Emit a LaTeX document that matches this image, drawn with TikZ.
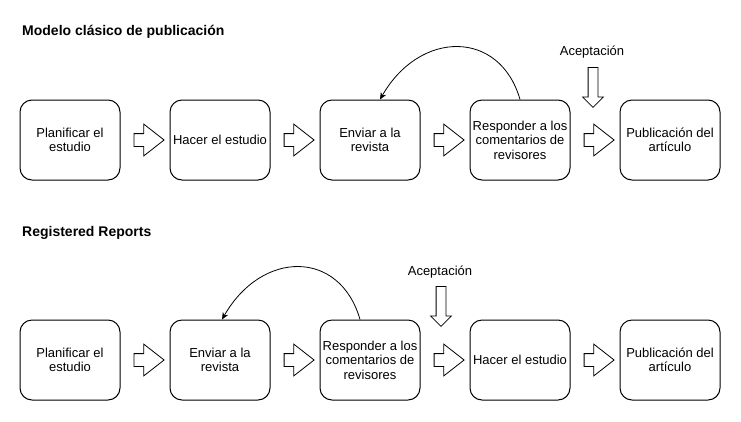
\documentclass[tikz,border=0pt]{standalone}
\usepackage{fontspec}
\setmainfont{Liberation Sans}
\usetikzlibrary{shapes.arrows, arrows.meta, calc}

\begin{document}
\begin{tikzpicture}[x=1pt, y=-1pt,
    caja/.style={draw, line width=1pt, rounded corners=12pt, minimum width=100pt, minimum height=80pt,
        align=center, inner sep=1pt, font=\fontsize{13}{14.5}\selectfont},
    flecha/.style={draw, line width=0.8pt, single arrow, inner xsep=0pt, inner ysep=6pt,
        single arrow head extend=9.5pt, single arrow tip angle=76, minimum height=30pt},
    aceptar/.style={draw, line width=0.8pt, single arrow, rotate=-90, inner xsep=0pt, inner ysep=4.5pt,
        single arrow head extend=5.5pt, single arrow tip angle=90, minimum height=40pt},
    curva/.style={line width=0.8pt, -{Stealth[length=7pt, width=6pt]}},
    titulo/.style={anchor=base west, inner sep=0pt, font=\fontsize{14}{16}\selectfont\bfseries},
    etiqueta/.style={anchor=base, inner sep=0pt, font=\fontsize{13}{15}\selectfont}
]
    \useasboundingbox (0,0) rectangle (741,421);

    % Modelo clasico
    \node[titulo] (tit1) at (22,35.5) {Modelo clásico de publicación};

    \node[caja] (c1) at (70,140) {Planificar el\\estudio};
    \node[caja] (c2) at (220,140) {Hacer el estudio};
    \node[caja] (c3) at (370,140) {Enviar a la\\revista};
    \node[caja] (c4) at (520,140) {Responder a los\\comentarios de\\revisores};
    \node[caja] (c5) at (670,140) {Publicación del\\artículo};

    \node[flecha] (f1) at ($(c1.east)!0.5!(c2.west)$) {};
    \node[flecha] (f2) at ($(c2.east)!0.5!(c3.west)$) {};
    \node[flecha] (f3) at ($(c3.east)!0.5!(c4.west)$) {};
    \node[flecha] (f4) at ($(c4.east)!0.5!(c5.west)$) {};

    % vuelta a la revista
    \draw[curva] (c4.north) .. controls +(-20,-70) and +(40,-70) .. ([xshift=10pt]c3.north);

    % Aceptacion
    \node[etiqueta] (acep1) at (592,55) {Aceptación};
    \node[aceptar, anchor=tail] (fa1) at ($(acep1.base)+(1,12)$) {};

    % Registered Reports
    \node[titulo] (tit2) at (22,236) {Registered Reports};

    \node[caja] (d1) at (70,360) {Planificar el\\estudio};
    \node[caja] (d2) at (220,360) {Enviar a la\\revista};
    \node[caja] (d3) at (370,360) {Responder a los\\comentarios de\\revisores};
    \node[caja] (d4) at (520,360) {Hacer el estudio};
    \node[caja] (d5) at (670,360) {Publicación del\\artículo};

    \node[flecha] (g1) at ($(d1.east)!0.5!(d2.west)$) {};
    \node[flecha] (g2) at ($(d2.east)!0.5!(d3.west)$) {};
    \node[flecha] (g3) at ($(d3.east)!0.5!(d4.west)$) {};
    \node[flecha] (g4) at ($(d4.east)!0.5!(d5.west)$) {};

    \draw[curva] ([xshift=-10pt]d3.north) .. controls +(-20,-70) and +(40,-70) .. ([xshift=2pt]d2.north);

    \node[etiqueta] (acep2) at (440,275) {Aceptación};
    \node[aceptar, anchor=tail] (fa2) at ($(acep2.base)+(1,11)$) {};
\end{tikzpicture}
\end{document}
